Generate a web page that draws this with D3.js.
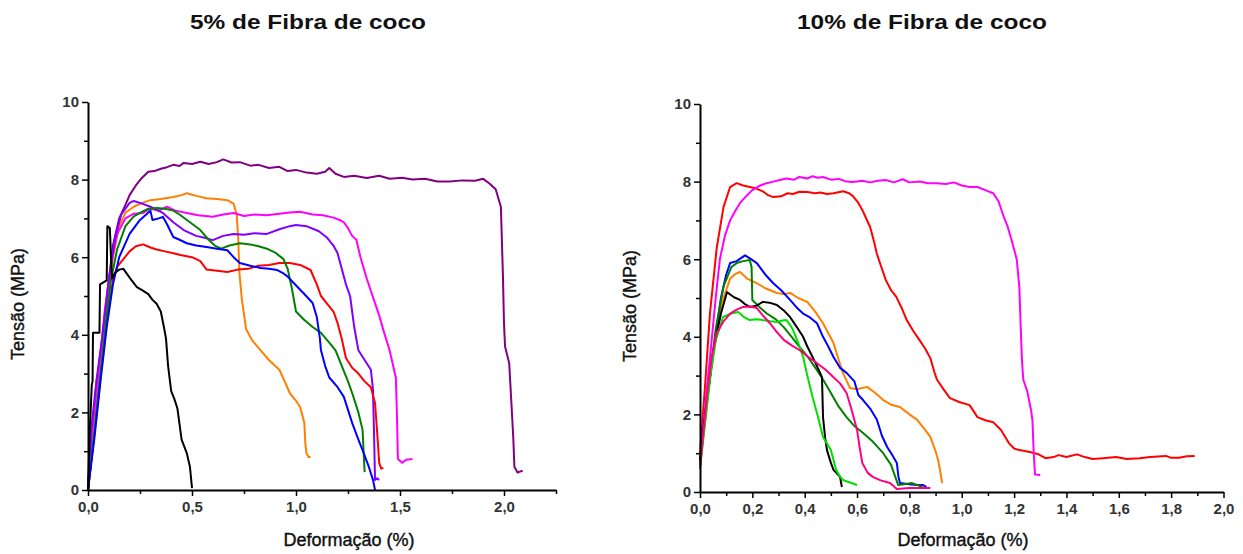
<!DOCTYPE html>
<html>
<head>
<meta charset="utf-8">
<script src="https://cdn.jsdelivr.net/npm/d3@7"></script>
<style>
  body { margin: 0; background: #fff; }
  svg { display: block; font-family: "Liberation Sans", Arial, sans-serif; }
</style>
</head>
<body>
<div id="container"></div>
<script>
// DATA: Deformação (%) x Tensão (MPa)

// 5% de Fibra de coco
const l_black = [[0,0],[0.008,1.4],[0.018,2.7],[0.022,2.8],[0.024,4.05],[0.055,4.05],[0.058,5.3],[0.09,5.4],[0.093,6.8],[0.105,6.75],[0.115,5.45],[0.13,5.6],[0.15,5.68],[0.17,5.7],[0.19,5.55],[0.21,5.4],[0.235,5.23],[0.26,5.15],[0.29,5.05],[0.31,4.9],[0.33,4.8],[0.35,4.6],[0.365,4.2],[0.375,3.9],[0.385,3.2],[0.4,2.55],[0.415,2.35],[0.43,2.1],[0.44,1.7],[0.45,1.3],[0.475,0.95],[0.49,0.6],[0.5,0.05]];
const l_purple = [[0,0],[0.01,1.0],[0.025,1.9],[0.04,2.7],[0.055,3.3],[0.07,3.9],[0.085,4.7],[0.1,5.4],[0.12,6.3],[0.15,7.0],[0.18,7.35],[0.2,7.6],[0.23,7.85],[0.26,8.05],[0.29,8.2],[0.32,8.22],[0.35,8.28],[0.38,8.32],[0.41,8.38],[0.44,8.35],[0.46,8.43],[0.5,8.4],[0.54,8.46],[0.58,8.4],[0.62,8.45],[0.65,8.52],[0.69,8.44],[0.73,8.45],[0.78,8.36],[0.82,8.38],[0.87,8.3],[0.92,8.33],[0.96,8.22],[1.0,8.25],[1.05,8.18],[1.1,8.15],[1.14,8.2],[1.16,8.3],[1.19,8.15],[1.23,8.07],[1.28,8.1],[1.34,8.04],[1.4,8.1],[1.45,8.02],[1.51,8.05],[1.56,8.0],[1.62,8.02],[1.68,7.95],[1.74,7.95],[1.8,7.98],[1.86,7.97],[1.9,8.02],[1.93,7.9],[1.96,7.75],[1.985,7.3],[1.995,5.5],[2.0,4.3],[2.005,3.7],[2.025,3.27],[2.035,2.3],[2.045,1.3],[2.05,0.6],[2.065,0.45],[2.09,0.5]];
const l_orange = [[0,0],[0.03,1.5],[0.06,3.2],[0.09,4.8],[0.12,6.0],[0.15,6.8],[0.18,7.15],[0.22,7.3],[0.26,7.4],[0.3,7.47],[0.35,7.5],[0.41,7.55],[0.45,7.6],[0.475,7.65],[0.52,7.58],[0.57,7.52],[0.62,7.5],[0.67,7.47],[0.7,7.38],[0.715,7.1],[0.722,6.5],[0.728,5.6],[0.74,4.9],[0.76,4.15],[0.79,3.85],[0.83,3.6],[0.87,3.35],[0.92,3.1],[0.95,2.75],[0.97,2.5],[1.0,2.3],[1.02,2.14],[1.04,1.73],[1.045,1.2],[1.05,0.95],[1.06,0.85],[1.07,0.85]];
const l_magenta = [[0,0],[0.02,1.5],[0.05,3.0],[0.08,4.6],[0.11,5.8],[0.14,6.6],[0.18,7.0],[0.22,7.12],[0.265,7.14],[0.3,7.25],[0.34,7.2],[0.38,7.3],[0.42,7.2],[0.475,7.14],[0.53,7.08],[0.6,7.04],[0.65,7.1],[0.7,7.14],[0.75,7.06],[0.8,7.1],[0.86,7.08],[0.92,7.12],[0.97,7.15],[1.02,7.17],[1.08,7.1],[1.13,7.08],[1.18,7.02],[1.21,6.96],[1.23,6.9],[1.25,6.75],[1.27,6.55],[1.29,6.45],[1.31,6.0],[1.34,5.45],[1.37,4.97],[1.4,4.5],[1.42,4.12],[1.45,3.6],[1.48,2.9],[1.485,2.0],[1.49,0.8],[1.51,0.7],[1.53,0.78],[1.56,0.8]];
const l_violet = [[0,0],[0.015,1.5],[0.04,2.8],[0.07,4.0],[0.1,5.4],[0.13,6.5],[0.16,7.1],[0.2,7.4],[0.22,7.45],[0.26,7.38],[0.3,7.3],[0.36,7.14],[0.41,6.9],[0.46,6.7],[0.52,6.55],[0.56,6.5],[0.6,6.44],[0.65,6.55],[0.7,6.6],[0.75,6.58],[0.8,6.62],[0.86,6.6],[0.92,6.72],[0.97,6.8],[1.0,6.83],[1.05,6.8],[1.11,6.67],[1.15,6.5],[1.18,6.3],[1.2,6.1],[1.22,5.7],[1.24,5.3],[1.26,5.0],[1.28,4.2],[1.3,3.6],[1.33,3.35],[1.36,3.1],[1.37,2.6],[1.375,1.5],[1.38,0.26],[1.39,0.3],[1.4,0.26]];
const l_green = [[0,0],[0.03,1.5],[0.06,3.0],[0.09,4.5],[0.11,5.4],[0.14,6.2],[0.18,6.8],[0.22,7.05],[0.25,7.14],[0.29,7.25],[0.33,7.27],[0.37,7.25],[0.41,7.2],[0.44,7.1],[0.49,6.9],[0.54,6.7],[0.58,6.45],[0.61,6.3],[0.64,6.22],[0.68,6.3],[0.73,6.36],[0.78,6.33],[0.82,6.28],[0.86,6.22],[0.9,6.12],[0.94,5.95],[0.96,5.7],[0.98,5.2],[1.0,4.6],[1.04,4.38],[1.08,4.2],[1.12,4.05],[1.16,3.8],[1.19,3.6],[1.22,3.2],[1.25,2.8],[1.27,2.5],[1.3,2.0],[1.32,1.55],[1.325,1.0],[1.33,0.46]];
const l_blue = [[0,0],[0.03,1.3],[0.06,2.8],[0.09,4.2],[0.12,5.3],[0.15,6.0],[0.2,6.6],[0.25,6.96],[0.28,7.1],[0.3,7.2],[0.31,6.96],[0.34,7.0],[0.36,7.04],[0.38,6.85],[0.41,6.52],[0.44,6.45],[0.475,6.36],[0.52,6.3],[0.57,6.26],[0.62,6.22],[0.67,6.18],[0.7,6.0],[0.73,5.85],[0.78,5.78],[0.83,5.72],[0.87,5.7],[0.91,5.67],[0.94,5.58],[0.96,5.5],[0.99,5.33],[1.04,5.05],[1.08,4.82],[1.1,4.46],[1.115,3.9],[1.12,3.6],[1.14,3.2],[1.16,2.9],[1.2,2.65],[1.23,2.4],[1.27,1.73],[1.3,1.3],[1.32,1.03],[1.35,0.6],[1.37,0.26],[1.38,0]];
const l_red = [[0,0],[0.03,1.4],[0.06,2.9],[0.09,4.3],[0.12,5.4],[0.14,5.75],[0.17,5.95],[0.2,6.15],[0.23,6.28],[0.265,6.33],[0.3,6.25],[0.33,6.2],[0.37,6.15],[0.41,6.1],[0.45,6.05],[0.5,6.0],[0.54,5.9],[0.57,5.68],[0.62,5.65],[0.67,5.62],[0.72,5.68],[0.77,5.7],[0.82,5.78],[0.87,5.8],[0.92,5.85],[0.97,5.85],[1.02,5.8],[1.07,5.67],[1.1,5.3],[1.12,5.0],[1.15,4.8],[1.18,4.6],[1.2,4.3],[1.22,3.9],[1.24,3.4],[1.27,3.15],[1.3,3.0],[1.33,2.8],[1.36,2.65],[1.38,2.24],[1.39,1.5],[1.4,0.7],[1.41,0.55],[1.42,0.57]];

// 10% de Fibra de coco
const r_red = [[0,1.0],[0.02,2.8],[0.038,4.6],[0.064,6.3],[0.09,7.35],[0.115,7.86],[0.14,7.96],[0.165,7.9],[0.19,7.86],[0.215,7.82],[0.24,7.75],[0.26,7.65],[0.28,7.6],[0.31,7.62],[0.335,7.7],[0.355,7.68],[0.38,7.74],[0.41,7.73],[0.44,7.7],[0.46,7.72],[0.485,7.68],[0.51,7.7],[0.547,7.75],[0.57,7.7],[0.585,7.62],[0.605,7.45],[0.62,7.27],[0.635,7.05],[0.65,6.83],[0.665,6.45],[0.675,6.16],[0.69,5.85],[0.71,5.46],[0.73,5.2],[0.75,5.03],[0.77,4.75],[0.79,4.43],[0.815,4.15],[0.84,3.9],[0.86,3.7],[0.88,3.45],[0.895,3.1],[0.905,2.9],[0.93,2.65],[0.955,2.42],[0.99,2.32],[1.03,2.24],[1.06,1.93],[1.09,1.85],[1.12,1.8],[1.15,1.6],[1.18,1.26],[1.2,1.12],[1.22,1.08],[1.26,1.03],[1.29,0.98],[1.32,0.87],[1.35,0.9],[1.37,0.95],[1.4,0.9],[1.44,0.97],[1.47,0.9],[1.5,0.85],[1.54,0.87],[1.59,0.9],[1.63,0.85],[1.68,0.87],[1.72,0.9],[1.78,0.93],[1.8,0.88],[1.83,0.88],[1.86,0.92],[1.89,0.93]];
const r_magenta = [[0,0.8],[0.02,2.2],[0.04,3.6],[0.06,5.0],[0.076,6.0],[0.095,6.6],[0.115,7.0],[0.135,7.25],[0.153,7.45],[0.18,7.65],[0.2,7.78],[0.23,7.9],[0.255,7.96],[0.28,8.0],[0.305,8.04],[0.33,8.08],[0.36,8.05],[0.38,8.12],[0.41,8.08],[0.43,8.14],[0.45,8.1],[0.47,8.12],[0.5,8.05],[0.53,8.07],[0.56,8.0],[0.585,7.99],[0.62,8.02],[0.65,7.98],[0.68,8.02],[0.71,8.04],[0.74,7.98],[0.775,8.06],[0.8,7.98],[0.84,8.0],[0.87,7.96],[0.905,7.96],[0.94,7.94],[0.97,7.98],[1.0,7.9],[1.03,7.86],[1.06,7.86],[1.09,7.78],[1.12,7.7],[1.14,7.5],[1.16,7.1],[1.175,6.85],[1.19,6.5],[1.21,6.0],[1.22,5.28],[1.225,4.3],[1.23,3.4],[1.235,2.9],[1.25,2.6],[1.265,2.1],[1.27,1.86],[1.275,1.0],[1.28,0.45],[1.3,0.44]];
const r_blue = [[0,0.8],[0.02,2.0],[0.05,3.6],[0.08,5.0],[0.1,5.6],[0.115,5.9],[0.14,5.95],[0.172,6.1],[0.195,6.0],[0.217,5.9],[0.25,5.6],[0.28,5.38],[0.31,5.2],[0.344,4.95],[0.37,4.75],[0.394,4.6],[0.42,4.5],[0.447,4.35],[0.47,4.0],[0.49,3.75],[0.51,3.48],[0.535,3.2],[0.56,3.07],[0.59,2.85],[0.605,2.5],[0.623,2.37],[0.65,2.15],[0.676,1.86],[0.695,1.45],[0.715,1.16],[0.735,0.95],[0.752,0.75],[0.758,0.4],[0.764,0.23],[0.8,0.2],[0.83,0.18],[0.852,0.18],[0.865,0.13]];
const r_dgreen = [[0,0.7],[0.03,2.5],[0.06,4.2],[0.09,5.3],[0.12,5.8],[0.14,5.9],[0.165,5.95],[0.19,5.98],[0.197,5.8],[0.2,4.95],[0.23,4.75],[0.255,4.6],[0.29,4.45],[0.32,4.25],[0.35,4.0],[0.38,3.74],[0.41,3.5],[0.447,3.14],[0.47,2.9],[0.5,2.55],[0.53,2.2],[0.56,1.93],[0.59,1.7],[0.623,1.52],[0.66,1.3],[0.7,1.0],[0.73,0.7],[0.757,0.18],[0.78,0.2],[0.81,0.23],[0.85,0.13]];
const r_orange = [[0,0.8],[0.03,2.5],[0.06,4.0],[0.09,5.0],[0.115,5.5],[0.135,5.62],[0.153,5.67],[0.18,5.5],[0.217,5.38],[0.25,5.25],[0.294,5.13],[0.32,5.1],[0.344,5.13],[0.375,5.0],[0.41,4.9],[0.44,4.65],[0.47,4.35],[0.49,4.1],[0.51,3.84],[0.53,3.4],[0.546,3.07],[0.573,2.68],[0.6,2.65],[0.638,2.71],[0.67,2.55],[0.7,2.37],[0.73,2.25],[0.764,2.19],[0.8,2.0],[0.83,1.86],[0.86,1.6],[0.88,1.42],[0.9,1.05],[0.91,0.82],[0.92,0.45],[0.925,0.23]];
const r_black = [[0,0.8],[0.02,2.0],[0.05,3.6],[0.08,4.6],[0.103,5.15],[0.13,5.02],[0.153,4.95],[0.17,4.85],[0.19,4.77],[0.215,4.8],[0.24,4.9],[0.265,4.88],[0.294,4.82],[0.32,4.68],[0.344,4.51],[0.37,4.25],[0.394,4.0],[0.41,3.75],[0.43,3.48],[0.45,3.2],[0.466,2.96],[0.47,1.93],[0.478,1.4],[0.485,1.08],[0.5,0.75],[0.51,0.57],[0.535,0.39],[0.542,0.13]];
const r_lime = [[0,0.6],[0.02,1.8],[0.04,3.0],[0.06,3.9],[0.088,4.51],[0.12,4.6],[0.146,4.64],[0.17,4.5],[0.19,4.43],[0.215,4.45],[0.24,4.43],[0.27,4.4],[0.294,4.38],[0.315,4.42],[0.33,4.43],[0.345,4.3],[0.355,4.18],[0.375,3.85],[0.394,3.48],[0.41,3.0],[0.43,2.45],[0.45,1.95],[0.47,1.42],[0.485,1.25],[0.5,1.08],[0.52,0.57],[0.535,0.4],[0.546,0.31],[0.57,0.25],[0.6,0.18]];
const r_pink = [[0,0.6],[0.026,2.45],[0.045,3.5],[0.064,4.1],[0.09,4.4],[0.115,4.6],[0.14,4.7],[0.165,4.77],[0.19,4.78],[0.217,4.74],[0.24,4.55],[0.267,4.35],[0.29,4.15],[0.32,3.92],[0.35,3.78],[0.38,3.66],[0.41,3.5],[0.447,3.32],[0.48,3.15],[0.51,2.96],[0.535,2.8],[0.56,2.55],[0.58,2.1],[0.6,1.6],[0.61,1.15],[0.62,0.75],[0.64,0.5],[0.66,0.39],[0.69,0.3],[0.726,0.23],[0.752,0.08],[0.8,0.1],[0.85,0.1],[0.88,0.1]];

// tick values
const yMajor = [0, 2, 4, 6, 8, 10];
const yMinor = [1, 3, 5, 7, 9];
const xMajorLeft = [0, 0.5, 1.0, 1.5, 2.0];
const xMinorLeft = [0.25, 0.75, 1.25, 1.75, 2.25];
const xMajorRight = [0, 0.2, 0.4, 0.6, 0.8, 1.0, 1.2, 1.4, 1.6, 1.8, 2.0];
const xMinorRight = [0.1, 0.3, 0.5, 0.7, 0.9, 1.1, 1.3, 1.5, 1.7, 1.9];

const W = 1243, H = 554;

const svg = d3.select("#container")
  .append("svg")
  .attr("width", W)
  .attr("height", H)
  .style("background", "#fff");

const panels = [
  {
    title: "5%  de Fibra de coco", titleX: 308, titleLen: 236,
    x0: 88, x1: 556, y0: 490, y1: 102, xMax: 2.25,
    xMajor: xMajorLeft, xMinor: xMinorLeft,
    yTitleX: 24, xTitleX: 349,
    series: [
      { data: l_purple, color: "#800080" },
      { data: l_orange, color: "#ff8000" },
      { data: l_magenta, color: "#ff00ff" },
      { data: l_violet, color: "#8000ff" },
      { data: l_red, color: "#ff0000" },
      { data: l_green, color: "#008000" },
      { data: l_blue, color: "#0000ff" },
      { data: l_black, color: "#000000" }
    ]
  },
  {
    title: "10%  de Fibra de coco", titleX: 922, titleLen: 250,
    x0: 700, x1: 1223.5, y0: 492, y1: 104, xMax: 2.0,
    xMajor: xMajorRight, xMinor: xMinorRight,
    yTitleX: 636, xTitleX: 963,
    series: [
      { data: r_red, color: "#ff0000" },
      { data: r_magenta, color: "#ff00ff" },
      { data: r_orange, color: "#ff8000" },
      { data: r_blue, color: "#0000ff" },
      { data: r_dgreen, color: "#008000" },
      { data: r_black, color: "#000000" },
      { data: r_lime, color: "#00e000" },
      { data: r_pink, color: "#ff0080" }
    ]
  }
];

const fmtX = d => d.toFixed(1).replace(".", ",");

panels.forEach(p => {
  const x = d3.scaleLinear().domain([0, p.xMax]).range([p.x0, p.x1]);
  const y = d3.scaleLinear().domain([0, 10]).range([p.y0, p.y1]);

  // curves first, axes on top
  const line = d3.line().x(d => x(d[0])).y(d => y(d[1]));
  svg.append("g")
    .selectAll("path")
    .data(p.series)
    .join("path")
    .attr("d", d => line(d.data))
    .attr("fill", "none")
    .attr("stroke", d => d.color)
    .attr("stroke-width", 2)
    .attr("stroke-linejoin", "round");

  // minor ticks
  svg.append("g")
    .attr("transform", `translate(0,${p.y0})`)
    .call(d3.axisBottom(x).tickValues(p.xMinor).tickSize(4).tickFormat(""))
    .call(g => g.select(".domain").remove());
  svg.append("g")
    .attr("transform", `translate(${p.x0},0)`)
    .call(d3.axisLeft(y).tickValues(yMinor).tickSize(4).tickFormat(""))
    .call(g => g.select(".domain").remove());

  // major ticks + labels
  const xAxis = svg.append("g")
    .attr("transform", `translate(0,${p.y0})`)
    .call(d3.axisBottom(x).tickValues(p.xMajor).tickSize(6).tickSizeOuter(0).tickPadding(5).tickFormat(fmtX));
  const yAxis = svg.append("g")
    .attr("transform", `translate(${p.x0},0)`)
    .call(d3.axisLeft(y).tickValues(yMajor).tickSize(6).tickSizeOuter(0).tickPadding(3));

  [xAxis, yAxis].forEach(g => {
    g.selectAll(".domain").attr("stroke", "#000").attr("stroke-width", 2);
    g.selectAll("text")
      .attr("font-size", 15)
      .attr("font-weight", "bold")
      .attr("fill", "#333")
      .attr("font-family", "Liberation Sans, Arial, sans-serif");
  });
  svg.selectAll(".tick line").attr("stroke", "#000").attr("stroke-width", 1.5);

  // axis titles
  svg.append("text")
    .attr("transform", `translate(${p.yTitleX},${(p.y0 + p.y1) / 2 + 8}) rotate(-90)`)
    .attr("text-anchor", "middle")
    .attr("font-size", 18)
    .attr("fill", "#111")
    .attr("stroke", "#111")
    .attr("stroke-width", 0.4)
    .text("Tensão (MPa)");

  svg.append("text")
    .attr("x", p.xTitleX)
    .attr("y", 546)
    .attr("text-anchor", "middle")
    .attr("font-size", 18)
    .attr("fill", "#111")
    .attr("stroke", "#111")
    .attr("stroke-width", 0.4)
    .text("Deformação (%)");

  // chart title
  svg.append("text")
    .attr("x", p.titleX)
    .attr("y", 29)
    .attr("text-anchor", "middle")
    .attr("font-size", 21)
    .attr("font-weight", "bold")
    .attr("fill", "#111")
    .attr("textLength", p.titleLen)
    .attr("lengthAdjust", "spacingAndGlyphs")
    .text(p.title);
});
</script>
</body>
</html>
